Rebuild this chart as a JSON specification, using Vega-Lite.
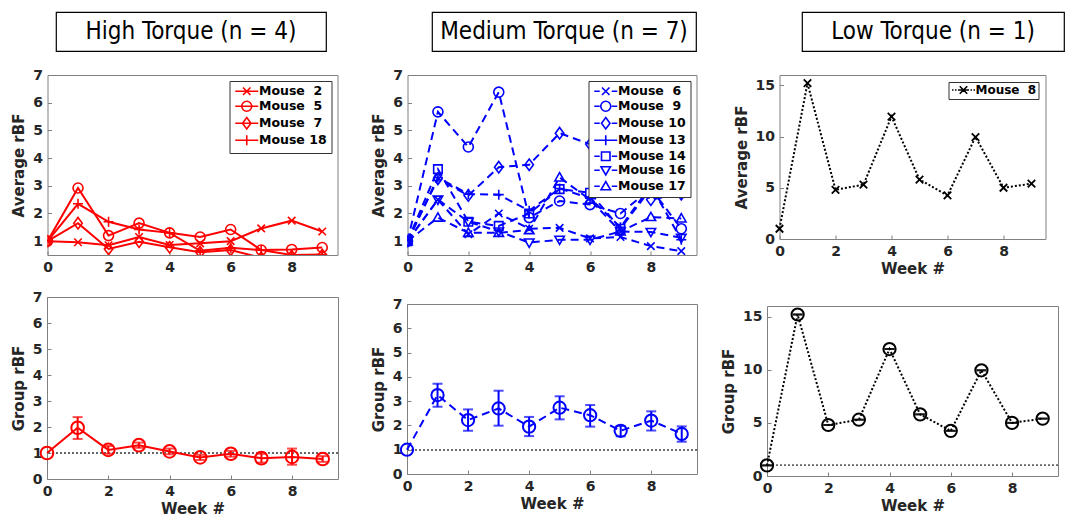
{
  "$schema": "https://vega.github.io/schema/vega-lite/v6.json",
  "background": "white",
  "padding": {"left": 10, "top": 11, "right": 0, "bottom": 0},
  "config": {
    "font": "DejaVu Sans",
    "view": {"stroke": "#808080", "strokeWidth": 1},
    "axis": {
      "labelFont": "DejaVu Sans", "labelFontSize": 14, "labelFontWeight": "bold", "labelColor": "#262626",
      "titleFont": "DejaVu Sans", "titleFontSize": 15, "titleFontWeight": "bold", "titleColor": "#262626",
      "grid": false, "domain": false, "ticks": true, "tickColor": "#808080", "tickSize": -4,
      "labelPadding": 9, "labelFlush": false, "labelOverlap": false
    },
    "axisY": {"titlePadding": 6},
    "axisX": {"titlePadding": 3},
    "legend": {
      "labelFont": "DejaVu Sans", "labelFontSize": 12.5, "labelFontWeight": "bold", "labelColor": "black",
      "strokeColor": "#333333", "fillColor": "white", "cornerRadius": 0
    }
  },
  "datasets": {
    "high": [
      {"mouse": "Mouse \u00a02", "week": 0, "rbf": 1.0}, {"mouse": "Mouse \u00a02", "week": 1, "rbf": 0.96}, {"mouse": "Mouse \u00a02", "week": 2, "rbf": 0.85}, {"mouse": "Mouse \u00a02", "week": 3, "rbf": 1.15}, {"mouse": "Mouse \u00a02", "week": 4, "rbf": 0.86}, {"mouse": "Mouse \u00a02", "week": 5, "rbf": 0.92}, {"mouse": "Mouse \u00a02", "week": 6, "rbf": 1.0}, {"mouse": "Mouse \u00a02", "week": 7, "rbf": 1.46}, {"mouse": "Mouse \u00a02", "week": 8, "rbf": 1.74}, {"mouse": "Mouse \u00a02", "week": 9, "rbf": 1.35},
      {"mouse": "Mouse \u00a05", "week": 0, "rbf": 1.0}, {"mouse": "Mouse \u00a05", "week": 1, "rbf": 2.92}, {"mouse": "Mouse \u00a05", "week": 2, "rbf": 1.2}, {"mouse": "Mouse \u00a05", "week": 3, "rbf": 1.65}, {"mouse": "Mouse \u00a05", "week": 4, "rbf": 1.3}, {"mouse": "Mouse \u00a05", "week": 5, "rbf": 1.15}, {"mouse": "Mouse \u00a05", "week": 6, "rbf": 1.42}, {"mouse": "Mouse \u00a05", "week": 7, "rbf": 0.68}, {"mouse": "Mouse \u00a05", "week": 8, "rbf": 0.7}, {"mouse": "Mouse \u00a05", "week": 9, "rbf": 0.77},
      {"mouse": "Mouse \u00a07", "week": 0, "rbf": 1.0}, {"mouse": "Mouse \u00a07", "week": 1, "rbf": 1.65}, {"mouse": "Mouse \u00a07", "week": 2, "rbf": 0.72}, {"mouse": "Mouse \u00a07", "week": 3, "rbf": 0.98}, {"mouse": "Mouse \u00a07", "week": 4, "rbf": 0.78}, {"mouse": "Mouse \u00a07", "week": 5, "rbf": 0.6}, {"mouse": "Mouse \u00a07", "week": 6, "rbf": 0.68}, {"mouse": "Mouse \u00a07", "week": 7, "rbf": 0.4}, {"mouse": "Mouse \u00a07", "week": 8, "rbf": 0.46}, {"mouse": "Mouse \u00a07", "week": 9, "rbf": 0.5},
      {"mouse": "Mouse 18", "week": 0, "rbf": 1.0}, {"mouse": "Mouse 18", "week": 1, "rbf": 2.35}, {"mouse": "Mouse 18", "week": 2, "rbf": 1.7}, {"mouse": "Mouse 18", "week": 3, "rbf": 1.42}, {"mouse": "Mouse 18", "week": 4, "rbf": 1.3}, {"mouse": "Mouse 18", "week": 5, "rbf": 0.65}, {"mouse": "Mouse 18", "week": 6, "rbf": 0.76}, {"mouse": "Mouse 18", "week": 7, "rbf": 0.68}, {"mouse": "Mouse 18", "week": 8, "rbf": 0.5}, {"mouse": "Mouse 18", "week": 9, "rbf": 0.52}
    ],
    "medium": [
      {"mouse": "Mouse \u00a06", "week": 0, "rbf": 1.0}, {"mouse": "Mouse \u00a06", "week": 1, "rbf": 2.5}, {"mouse": "Mouse \u00a06", "week": 2, "rbf": 1.25}, {"mouse": "Mouse \u00a06", "week": 3, "rbf": 2.0}, {"mouse": "Mouse \u00a06", "week": 4, "rbf": 1.45}, {"mouse": "Mouse \u00a06", "week": 5, "rbf": 1.48}, {"mouse": "Mouse \u00a06", "week": 6, "rbf": 1.1}, {"mouse": "Mouse \u00a06", "week": 7, "rbf": 1.15}, {"mouse": "Mouse \u00a06", "week": 8, "rbf": 0.82}, {"mouse": "Mouse \u00a06", "week": 9, "rbf": 0.64},
      {"mouse": "Mouse \u00a09", "week": 0, "rbf": 1.0}, {"mouse": "Mouse \u00a09", "week": 1, "rbf": 5.67}, {"mouse": "Mouse \u00a09", "week": 2, "rbf": 4.4}, {"mouse": "Mouse \u00a09", "week": 3, "rbf": 6.38}, {"mouse": "Mouse \u00a09", "week": 4, "rbf": 1.85}, {"mouse": "Mouse \u00a09", "week": 5, "rbf": 2.45}, {"mouse": "Mouse \u00a09", "week": 6, "rbf": 2.32}, {"mouse": "Mouse \u00a09", "week": 7, "rbf": 2.0}, {"mouse": "Mouse \u00a09", "week": 8, "rbf": 2.9}, {"mouse": "Mouse \u00a09", "week": 9, "rbf": 1.45},
      {"mouse": "Mouse 10", "week": 0, "rbf": 1.0}, {"mouse": "Mouse 10", "week": 1, "rbf": 3.25}, {"mouse": "Mouse 10", "week": 2, "rbf": 2.65}, {"mouse": "Mouse 10", "week": 3, "rbf": 3.67}, {"mouse": "Mouse 10", "week": 4, "rbf": 3.76}, {"mouse": "Mouse 10", "week": 5, "rbf": 4.9}, {"mouse": "Mouse 10", "week": 6, "rbf": 4.5}, {"mouse": "Mouse 10", "week": 7, "rbf": 3.6}, {"mouse": "Mouse 10", "week": 8, "rbf": 2.5}, {"mouse": "Mouse 10", "week": 9, "rbf": 2.7},
      {"mouse": "Mouse 13", "week": 0, "rbf": 1.0}, {"mouse": "Mouse 13", "week": 1, "rbf": 3.3}, {"mouse": "Mouse 13", "week": 2, "rbf": 2.7}, {"mouse": "Mouse 13", "week": 3, "rbf": 2.68}, {"mouse": "Mouse 13", "week": 4, "rbf": 2.1}, {"mouse": "Mouse 13", "week": 5, "rbf": 2.9}, {"mouse": "Mouse 13", "week": 6, "rbf": 2.55}, {"mouse": "Mouse 13", "week": 7, "rbf": 1.5}, {"mouse": "Mouse 13", "week": 8, "rbf": 3.0}, {"mouse": "Mouse 13", "week": 9, "rbf": 1.05},
      {"mouse": "Mouse 14", "week": 0, "rbf": 1.0}, {"mouse": "Mouse 14", "week": 1, "rbf": 3.6}, {"mouse": "Mouse 14", "week": 2, "rbf": 1.7}, {"mouse": "Mouse 14", "week": 3, "rbf": 1.55}, {"mouse": "Mouse 14", "week": 4, "rbf": 2.0}, {"mouse": "Mouse 14", "week": 5, "rbf": 2.88}, {"mouse": "Mouse 14", "week": 6, "rbf": 2.75}, {"mouse": "Mouse 14", "week": 7, "rbf": 1.45}, {"mouse": "Mouse 14", "week": 8, "rbf": 2.9}, {"mouse": "Mouse 14", "week": 9, "rbf": 2.8},
      {"mouse": "Mouse 16", "week": 0, "rbf": 1.0}, {"mouse": "Mouse 16", "week": 1, "rbf": 2.5}, {"mouse": "Mouse 16", "week": 2, "rbf": 1.7}, {"mouse": "Mouse 16", "week": 3, "rbf": 1.35}, {"mouse": "Mouse 16", "week": 4, "rbf": 0.95}, {"mouse": "Mouse 16", "week": 5, "rbf": 1.05}, {"mouse": "Mouse 16", "week": 6, "rbf": 1.05}, {"mouse": "Mouse 16", "week": 7, "rbf": 1.35}, {"mouse": "Mouse 16", "week": 8, "rbf": 1.33}, {"mouse": "Mouse 16", "week": 9, "rbf": 1.12},
      {"mouse": "Mouse 17", "week": 0, "rbf": 1.0}, {"mouse": "Mouse 17", "week": 1, "rbf": 1.85}, {"mouse": "Mouse 17", "week": 2, "rbf": 1.3}, {"mouse": "Mouse 17", "week": 3, "rbf": 1.3}, {"mouse": "Mouse 17", "week": 4, "rbf": 1.4}, {"mouse": "Mouse 17", "week": 5, "rbf": 3.3}, {"mouse": "Mouse 17", "week": 6, "rbf": 2.5}, {"mouse": "Mouse 17", "week": 7, "rbf": 1.35}, {"mouse": "Mouse 17", "week": 8, "rbf": 1.87}, {"mouse": "Mouse 17", "week": 9, "rbf": 1.82}
    ],
    "low": [
      {"mouse": "Mouse \u00a08", "week": 0, "rbf": 1.0}, {"mouse": "Mouse \u00a08", "week": 1, "rbf": 15.2}, {"mouse": "Mouse \u00a08", "week": 2, "rbf": 4.8}, {"mouse": "Mouse \u00a08", "week": 3, "rbf": 5.3}, {"mouse": "Mouse \u00a08", "week": 4, "rbf": 11.95}, {"mouse": "Mouse \u00a08", "week": 5, "rbf": 5.8}, {"mouse": "Mouse \u00a08", "week": 6, "rbf": 4.25}, {"mouse": "Mouse \u00a08", "week": 7, "rbf": 9.95}, {"mouse": "Mouse \u00a08", "week": 8, "rbf": 5.0}, {"mouse": "Mouse \u00a08", "week": 9, "rbf": 5.4}
    ],
    "highGroup": [
      {"week": 0, "mean": 1.0}, {"week": 1, "mean": 1.97, "lo": 1.54, "hi": 2.38}, {"week": 2, "mean": 1.12, "lo": 0.97, "hi": 1.27}, {"week": 3, "mean": 1.3, "lo": 1.2, "hi": 1.4}, {"week": 4, "mean": 1.06, "lo": 0.95, "hi": 1.17}, {"week": 5, "mean": 0.83, "lo": 0.73, "hi": 0.93}, {"week": 6, "mean": 0.97, "lo": 0.86, "hi": 1.08}, {"week": 7, "mean": 0.8, "lo": 0.63, "hi": 0.97}, {"week": 8, "mean": 0.85, "lo": 0.55, "hi": 1.17}, {"week": 9, "mean": 0.77, "lo": 0.66, "hi": 0.88}
    ],
    "medGroup": [
      {"week": 0, "mean": 1.0}, {"week": 1, "mean": 3.25, "lo": 2.77, "hi": 3.72}, {"week": 2, "mean": 2.22, "lo": 1.78, "hi": 2.66}, {"week": 3, "mean": 2.7, "lo": 1.99, "hi": 3.43}, {"week": 4, "mean": 1.95, "lo": 1.56, "hi": 2.35}, {"week": 5, "mean": 2.73, "lo": 2.25, "hi": 3.2}, {"week": 6, "mean": 2.42, "lo": 1.95, "hi": 2.84}, {"week": 7, "mean": 1.78, "lo": 1.55, "hi": 1.98}, {"week": 8, "mean": 2.2, "lo": 1.79, "hi": 2.58}, {"week": 9, "mean": 1.65, "lo": 1.33, "hi": 1.96}
    ],
    "lowGroup": [
      {"week": 0, "mean": 1.0, "lo": 1.0, "hi": 1.0}, {"week": 1, "mean": 15.2, "lo": 15.2, "hi": 15.2}, {"week": 2, "mean": 4.8, "lo": 4.8, "hi": 4.8}, {"week": 3, "mean": 5.3, "lo": 5.3, "hi": 5.3}, {"week": 4, "mean": 11.95, "lo": 11.95, "hi": 11.95}, {"week": 5, "mean": 5.8, "lo": 5.8, "hi": 5.8}, {"week": 6, "mean": 4.25, "lo": 4.25, "hi": 4.25}, {"week": 7, "mean": 9.95, "lo": 9.95, "hi": 9.95}, {"week": 8, "mean": 5.0, "lo": 5.0, "hi": 5.0}, {"week": 9, "mean": 5.4, "lo": 5.4, "hi": 5.4}
    ],
    "titles1": [{"label": "High Torque (n = 4)"}],
    "titles2": [{"label": "Medium Torque (n = 7)"}],
    "titles3": [{"label": "Low Torque (n = 1)"}],
    "blank": [{"label": ""}]
  },
  "spacing": 15,
  "vconcat": [
    {
      "spacing": 7,
      "hconcat": [
        {"width": 1, "height": 39, "data": {"name": "blank"}, "view": {"stroke": null}, "mark": {"type": "text"}, "encoding": {"text": {"field": "label"}}},
        {
          "bounds": "flush",
          "spacing": 106,
          "hconcat": [
            {"width": 270, "height": 39, "data": {"name": "titles1"}, "view": {"stroke": "black", "strokeWidth": 1.2}, "mark": {"type": "text", "font": "Liberation Sans Narrow, DejaVu Sans Condensed, Liberation Sans", "fontSize": 24, "align": "center", "baseline": "middle", "color": "black"}, "encoding": {"text": {"field": "label"}}},
            {"width": 264, "height": 39, "data": {"name": "titles2"}, "view": {"stroke": "black", "strokeWidth": 1.2}, "mark": {"type": "text", "font": "Liberation Sans Narrow, DejaVu Sans Condensed, Liberation Sans", "fontSize": 24, "align": "center", "baseline": "middle", "color": "black"}, "encoding": {"text": {"field": "label"}}},
            {"width": 262, "height": 39, "data": {"name": "titles3"}, "view": {"stroke": "black", "strokeWidth": 1.2}, "mark": {"type": "text", "font": "Liberation Sans Narrow, DejaVu Sans Condensed, Liberation Sans", "fontSize": 24, "align": "center", "baseline": "middle", "color": "black"}, "encoding": {"text": {"field": "label"}}}
          ]
        }
      ]
    },
    {
      "spacing": 23,
      "hconcat": [
        {
          "spacing": 31,
          "hconcat": [
            {
              "bounds": "flush", "spacing": 42, "center": true,
              "vconcat": [
                {
                  "width": 290, "height": 180,
                  "data": {"name": "high"},
                  "encoding": {
                    "x": {"field": "week", "type": "quantitative", "scale": {"domain": [0, 9.5], "nice": false, "zero": false}, "axis": {"values": [0, 2, 4, 6, 8], "title": null}},
                    "y": {"field": "rbf", "type": "quantitative", "scale": {"domain": [0.5, 7], "nice": false, "zero": false}, "axis": {"values": [1, 2, 3, 4, 5, 6, 7], "title": "Average rBF"}}
                  },
                  "layer": [
                    {"mark": {"type": "line", "color": "#ff0000", "strokeWidth": 2, "clip": true}, "encoding": {"detail": {"field": "mouse"}}},
                    {"mark": {"type": "point", "filled": false, "color": "#ff0000", "strokeWidth": 1.6, "size": 100, "opacity": 1, "clip": true},
                     "encoding": {"shape": {"field": "mouse", "legend": null, "scale": {"domain": ["Mouse \u00a02", "Mouse \u00a05", "Mouse \u00a07", "Mouse 18"], "range": ["M-0.75,-0.75L0.75,0.75M-0.75,0.75L0.75,-0.75", "circle", "M0,-1.15L0.85,0L0,1.15L-0.85,0Z", "M-1,0L1,0M0,-1L0,1"]}}}},
                    {"transform": [{"filter": "datum.week < 0"}],
                     "mark": {"type": "point", "filled": false, "color": "#ff0000", "strokeWidth": 1.6, "size": 100, "opacity": 1},
                     "encoding": {"shape": {"field": "mouse", "scale": {"domain": ["Mouse \u00a02", "Mouse \u00a05", "Mouse \u00a07", "Mouse 18"], "range": [
                       "M-2.3,0L2.3,0M-0.75,-0.75L0.75,0.75M-0.75,0.75L0.75,-0.75",
                       "M-2.3,0L2.3,0M1,0C1,0.5523 0.5523,1 0,1C-0.5523,1 -1,0.5523 -1,0C-1,-0.5523 -0.5523,-1 0,-1C0.5523,-1 1,-0.5523 1,0Z",
                       "M-2.3,0L2.3,0M0,-1.15L0.85,0L0,1.15L-0.85,0Z",
                       "M-2.3,0L2.3,0M0,-1L0,1"]},
                       "legend": {"title": null, "orient": "top-right", "offset": 6, "padding": 4, "symbolSize": 100, "symbolStrokeWidth": 1.6, "symbolStrokeColor": "#ff0000", "symbolOffset": 7, "labelOffset": 6, "rowPadding": -1}}}}
                  ],
                  "resolve": {"scale": {"shape": "independent"}, "legend": {"shape": "independent"}}
                },
                {
                  "width": 291, "height": 182,
                  "data": {"name": "highGroup"},
                  "layer": [
                    {"mark": {"type": "rule", "color": "#666666", "strokeWidth": 1, "strokeDash": [2, 2]}, "encoding": {"y": {"datum": 1, "type": "quantitative", "scale": {"domain": [0, 7], "nice": false, "zero": false}, "axis": {"values": [0, 1, 2, 3, 4, 5, 6, 7], "title": "Group rBF"}}}},
                    {"mark": {"type": "line", "color": "#ff0000", "strokeWidth": 2},
                     "encoding": {
                       "x": {"field": "week", "type": "quantitative", "scale": {"domain": [0, 9.5], "nice": false, "zero": false}, "axis": {"values": [0, 2, 4, 6, 8], "title": "Week #"}},
                       "y": {"field": "mean", "type": "quantitative", "scale": {"domain": [0, 7], "nice": false, "zero": false}, "axis": {"values": [0, 1, 2, 3, 4, 5, 6, 7], "title": "Group rBF"}}}},
                    {"mark": {"type": "errorbar", "color": "#ff0000", "thickness": 2, "ticks": {"size": 10}},
                     "encoding": {"x": {"field": "week", "type": "quantitative", "axis": {"values": [0, 2, 4, 6, 8], "title": "Week #"}}, "y": {"field": "lo", "type": "quantitative", "axis": {"values": [0, 1, 2, 3, 4, 5, 6, 7], "title": "Group rBF"}}, "y2": {"field": "hi"}}},
                    {"mark": {"type": "point", "shape": "circle", "filled": false, "color": "#ff0000", "strokeWidth": 2, "size": 160, "opacity": 1},
                     "encoding": {"x": {"field": "week", "type": "quantitative", "axis": {"values": [0, 2, 4, 6, 8], "title": "Week #"}}, "y": {"field": "mean", "type": "quantitative", "axis": {"values": [0, 1, 2, 3, 4, 5, 6, 7], "title": "Group rBF"}}}}
                  ]
                }
              ]
            },
            {
              "bounds": "flush", "spacing": 49, "center": true,
              "vconcat": [
                {
                  "width": 289, "height": 180,
                  "data": {"name": "medium"},
                  "encoding": {
                    "x": {"field": "week", "type": "quantitative", "scale": {"domain": [0, 9.5], "nice": false, "zero": false}, "axis": {"values": [0, 2, 4, 6, 8], "title": null}},
                    "y": {"field": "rbf", "type": "quantitative", "scale": {"domain": [0.5, 7], "nice": false, "zero": false}, "axis": {"values": [1, 2, 3, 4, 5, 6, 7], "title": "Average rBF"}}
                  },
                  "layer": [
                    {"mark": {"type": "line", "color": "#0000ff", "strokeWidth": 2, "strokeDash": [8, 5], "clip": true}, "encoding": {"detail": {"field": "mouse"}}},
                    {"mark": {"type": "point", "filled": false, "color": "#0000ff", "strokeWidth": 1.6, "size": 100, "opacity": 1, "clip": true},
                     "encoding": {"shape": {"field": "mouse", "legend": null, "scale": {"domain": ["Mouse \u00a06", "Mouse \u00a09", "Mouse 10", "Mouse 13", "Mouse 14", "Mouse 16", "Mouse 17"], "range": ["M-0.75,-0.75L0.75,0.75M-0.75,0.75L0.75,-0.75", "circle", "M0,-1.15L0.85,0L0,1.15L-0.85,0Z", "M-1,0L1,0M0,-1L0,1", "M-0.85,-0.85L0.85,-0.85L0.85,0.85L-0.85,0.85Z", "M-0.95,-0.7L0.95,-0.7L0,0.95Z", "M-0.95,0.7L0.95,0.7L0,-0.95Z"]}}}},
                    {"transform": [{"filter": "datum.week < 0"}],
                     "mark": {"type": "point", "filled": false, "color": "#0000ff", "strokeWidth": 1.6, "size": 100, "opacity": 1},
                     "encoding": {"shape": {"field": "mouse", "scale": {"domain": ["Mouse \u00a06", "Mouse \u00a09", "Mouse 10", "Mouse 13", "Mouse 14", "Mouse 16", "Mouse 17"], "range": [
                       "M-2.3,0L-1.2,0M1.2,0L2.3,0M-0.75,-0.75L0.75,0.75M-0.75,0.75L0.75,-0.75",
                       "M-2.3,0L-1.2,0M1.2,0L2.3,0M1,0C1,0.5523 0.5523,1 0,1C-0.5523,1 -1,0.5523 -1,0C-1,-0.5523 -0.5523,-1 0,-1C0.5523,-1 1,-0.5523 1,0Z",
                       "M-2.3,0L-1.2,0M1.2,0L2.3,0M0,-1.15L0.85,0L0,1.15L-0.85,0Z",
                       "M-2.3,0L2.3,0M0,-1L0,1",
                       "M-2.3,0L-1.2,0M1.2,0L2.3,0M-0.85,-0.85L0.85,-0.85L0.85,0.85L-0.85,0.85Z",
                       "M-2.3,0L-1.2,0M1.2,0L2.3,0M-0.95,-0.7L0.95,-0.7L0,0.95Z",
                       "M-2.3,0L-1.2,0M1.2,0L2.3,0M-0.95,0.7L0.95,0.7L0,-0.95Z"]},
                       "legend": {"title": null, "orient": "top-right", "offset": 6, "padding": 4, "symbolSize": 100, "symbolStrokeWidth": 1.6, "symbolStrokeColor": "#0000ff", "symbolOffset": 7, "labelOffset": 6, "rowPadding": -1}}}}
                  ],
                  "resolve": {"scale": {"shape": "independent"}, "legend": {"shape": "independent"}}
                },
                {
                  "width": 290, "height": 170,
                  "data": {"name": "medGroup"},
                  "layer": [
                    {"mark": {"type": "rule", "color": "#666666", "strokeWidth": 1, "strokeDash": [2, 2]}, "encoding": {"y": {"datum": 1, "type": "quantitative", "scale": {"domain": [0, 7], "nice": false, "zero": false}, "axis": {"values": [0, 1, 2, 3, 4, 5, 6, 7], "title": "Group rBF"}}}},
                    {"mark": {"type": "line", "color": "#0000ff", "strokeWidth": 2, "strokeDash": [8, 5]},
                     "encoding": {
                       "x": {"field": "week", "type": "quantitative", "scale": {"domain": [0, 9.5], "nice": false, "zero": false}, "axis": {"values": [0, 2, 4, 6, 8], "title": "Week #"}},
                       "y": {"field": "mean", "type": "quantitative", "scale": {"domain": [0, 7], "nice": false, "zero": false}, "axis": {"values": [0, 1, 2, 3, 4, 5, 6, 7], "title": "Group rBF"}}}},
                    {"mark": {"type": "errorbar", "color": "#0000ff", "thickness": 2, "ticks": {"size": 10}},
                     "encoding": {"x": {"field": "week", "type": "quantitative", "axis": {"values": [0, 2, 4, 6, 8], "title": "Week #"}}, "y": {"field": "lo", "type": "quantitative", "axis": {"values": [0, 1, 2, 3, 4, 5, 6, 7], "title": "Group rBF"}}, "y2": {"field": "hi"}}},
                    {"mark": {"type": "point", "shape": "circle", "filled": false, "color": "#0000ff", "strokeWidth": 2, "size": 150, "opacity": 1},
                     "encoding": {"x": {"field": "week", "type": "quantitative", "axis": {"values": [0, 2, 4, 6, 8], "title": "Week #"}}, "y": {"field": "mean", "type": "quantitative", "axis": {"values": [0, 1, 2, 3, 4, 5, 6, 7], "title": "Group rBF"}}}}
                  ]
                }
              ]
            }
          ]
        },
        {
          "bounds": "flush", "spacing": 67, "center": true,
          "vconcat": [
            {
              "width": 266, "height": 164,
              "data": {"name": "low"},
              "encoding": {
                "x": {"field": "week", "type": "quantitative", "scale": {"domain": [0, 9.5], "nice": false, "zero": false}, "axis": {"values": [0, 2, 4, 6, 8], "title": "Week #"}},
                "y": {"field": "rbf", "type": "quantitative", "scale": {"domain": [0, 16], "nice": false, "zero": false}, "axis": {"values": [0, 5, 10, 15], "title": "Average rBF"}}
              },
              "layer": [
                {"mark": {"type": "line", "color": "black", "strokeWidth": 2, "strokeDash": [2, 2]}, "encoding": {"detail": {"field": "mouse"}}},
                {"mark": {"type": "point", "filled": false, "color": "black", "strokeWidth": 1.8, "size": 100, "opacity": 1},
                 "encoding": {"shape": {"field": "mouse", "legend": null, "scale": {"domain": ["Mouse \u00a08"], "range": ["M-0.75,-0.75L0.75,0.75M-0.75,0.75L0.75,-0.75"]}}}},
                {"transform": [{"filter": "datum.week < 0"}],
                 "mark": {"type": "point", "filled": false, "color": "black", "strokeWidth": 1.6, "size": 100, "opacity": 1},
                 "encoding": {"shape": {"field": "mouse", "scale": {"domain": ["Mouse \u00a08"], "range": [
                   "M-2.3,0L-2,0M-1.7,0L-1.4,0M-1.1,0L1.1,0M1.4,0L1.7,0M2,0L2.3,0M-0.75,-0.75L0.75,0.75M-0.75,0.75L0.75,-0.75"]},
                   "legend": {"title": null, "orient": "top-right", "offset": 7, "padding": 2, "labelFontSize": 12, "symbolSize": 100, "symbolStrokeWidth": 1.6, "symbolStrokeColor": "black", "symbolOffset": 7, "labelOffset": 6, "rowPadding": 0}}}}
              ],
              "resolve": {"scale": {"shape": "independent"}, "legend": {"shape": "independent"}}
            },
            {
              "width": 291, "height": 170,
              "data": {"name": "lowGroup"},
              "layer": [
                {"mark": {"type": "rule", "color": "#666666", "strokeWidth": 1, "strokeDash": [2, 2]}, "encoding": {"y": {"datum": 1, "type": "quantitative", "scale": {"domain": [0, 16], "nice": false, "zero": false}, "axis": {"values": [0, 5, 10, 15], "title": "Group rBF"}}}},
                {"mark": {"type": "line", "color": "black", "strokeWidth": 2, "strokeDash": [2, 2]},
                 "encoding": {
                   "x": {"field": "week", "type": "quantitative", "scale": {"domain": [0, 9.5], "nice": false, "zero": false}, "axis": {"values": [0, 2, 4, 6, 8], "title": "Week #"}},
                   "y": {"field": "mean", "type": "quantitative", "scale": {"domain": [0, 16], "nice": false, "zero": false}, "axis": {"values": [0, 5, 10, 15], "title": "Group rBF"}}}},
                {"mark": {"type": "errorbar", "color": "black", "thickness": 2, "ticks": {"size": 10}},
                 "encoding": {"x": {"field": "week", "type": "quantitative", "axis": {"values": [0, 2, 4, 6, 8], "title": "Week #"}}, "y": {"field": "lo", "type": "quantitative", "axis": {"values": [0, 5, 10, 15], "title": "Group rBF"}}, "y2": {"field": "hi"}}},
                {"mark": {"type": "point", "shape": "circle", "filled": false, "color": "black", "strokeWidth": 2, "size": 150, "opacity": 1},
                 "encoding": {"x": {"field": "week", "type": "quantitative", "axis": {"values": [0, 2, 4, 6, 8], "title": "Week #"}}, "y": {"field": "mean", "type": "quantitative", "axis": {"values": [0, 5, 10, 15], "title": "Group rBF"}}}}
              ]
            }
          ]
        }
      ]
    }
  ]
}
